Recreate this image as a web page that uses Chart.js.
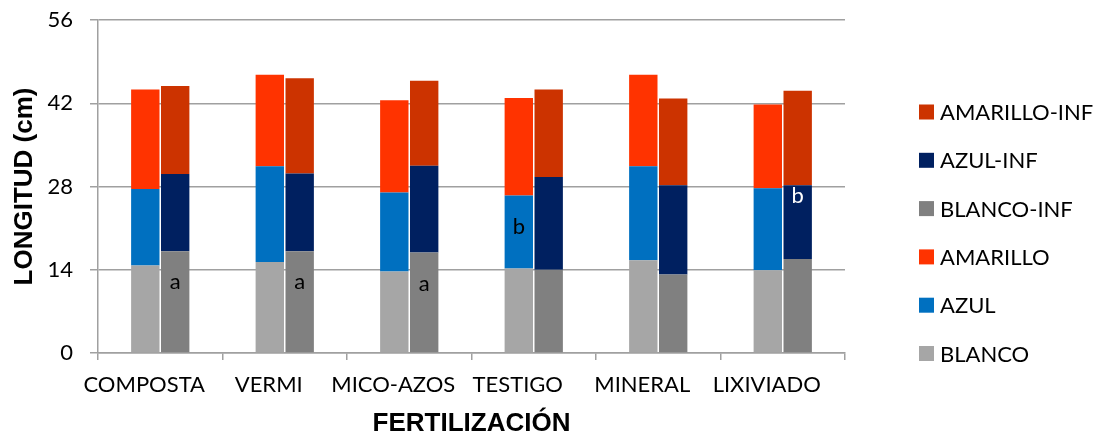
<!DOCTYPE html>
<html>
<head>
<meta charset="utf-8">
<script src="https://cdn.jsdelivr.net/npm/chart.js@4"></script>
<style>
  html, body { margin: 0; padding: 0; background: #fff; }
  #wrap { width: 1102px; height: 439px; position: relative; }
</style>
</head>
<body>
<div id="wrap"><canvas id="c" width="1102" height="439"></canvas></div>
<script>
const categories = ['COMPOSTA', 'VERMI', 'MICO-AZOS', 'TESTIGO', 'MINERAL', 'LIXIVIADO'];
const blanco      = [14.7, 15.3, 13.7, 14.2, 15.6, 13.9];
const azul        = [12.9, 16.1, 13.3, 12.3, 15.8, 13.8];
const amarillo    = [16.7, 15.4, 15.5, 16.4, 15.4, 14.1];
const blancoInf   = [17.1, 17.1, 16.9, 14.0, 13.2, 15.8];
const azulInf     = [13.0, 13.1, 14.6, 15.6, 15.0, 12.4];
const amarilloInf = [14.8, 16.0, 14.3, 14.7, 14.6, 15.9];
const yTicks = [0, 14, 28, 42, 56];
// significance letters: [seriesName, categoryIndex, letter]
const letters = [
  ['BLANCO-INF', 0, 'a'],
  ['BLANCO-INF', 1, 'a'],
  ['BLANCO-INF', 2, 'a'],
  ['AZUL', 3, 'b'],
  ['AZUL-INF', 5, 'b']
];

const letterStyle = {
  'BLANCO-INF': { color: '#000', dy: 31 },
  'AZUL': { color: '#000', dy: 31 },
  'AZUL-INF': { color: '#fff', dy: 11 }
};

const seriesDefs = [
  { label: 'BLANCO', data: blanco, color: '#A6A6A6', stack: 's1' },
  { label: 'AZUL', data: azul, color: '#0070C0', stack: 's1' },
  { label: 'AMARILLO', data: amarillo, color: '#FF3300', stack: 's1' },
  { label: 'BLANCO-INF', data: blancoInf, color: '#808080', stack: 's2' },
  { label: 'AZUL-INF', data: azulInf, color: '#002060', stack: 's2' },
  { label: 'AMARILLO-INF', data: amarilloInf, color: '#CC3300', stack: 's2' }
];

const TICK_FONT = 'Lato, "Open Sans", sans-serif';
const TITLE_FONT = '"Liberation Sans", Arial, sans-serif';

const lettersPlugin = {
  id: 'letters',
  afterDatasetsDraw(chart) {
    const ctx = chart.ctx;
    ctx.save();
    ctx.font = '22px ' + TICK_FONT;
    ctx.textAlign = 'center';
    ctx.textBaseline = 'middle';
    letters.forEach(([name, idx, txt]) => {
      const dsIndex = chart.data.datasets.findIndex(d => d.label === name);
      const el = chart.getDatasetMeta(dsIndex).data[idx];
      const st = letterStyle[name];
      ctx.fillStyle = st.color;
      ctx.fillText(txt, el.x, el.y + st.dy);
    });
    ctx.restore();
  }
};

const legendPlugin = {
  id: 'customLegend',
  afterDraw(chart) {
    const ctx = chart.ctx;
    ctx.save();
    ctx.font = '22px ' + TICK_FONT;
    ctx.textAlign = 'left';
    ctx.textBaseline = 'middle';
    const items = chart.data.datasets.slice().reverse();
    const x0 = 919, y0 = 112, step = 48.3;
    items.forEach((d, i) => {
      const y = y0 + i * step;
      ctx.fillStyle = d.backgroundColor;
      ctx.fillRect(x0, y - 7.5, 15, 15);
      ctx.fillStyle = '#000';
      ctx.fillText(d.label, x0 + 21, y + 1);
    });
    ctx.restore();
  }
};

new Chart(document.getElementById('c'), {
  type: 'bar',
  data: {
    labels: categories,
    datasets: seriesDefs.map(s => ({
      label: s.label,
      data: s.data,
      backgroundColor: s.color,
      stack: s.stack,
      borderWidth: 0,
      categoryPercentage: 0.48,
      barPercentage: 0.95
    }))
  },
  options: {
    responsive: false,
    animation: false,
    layout: { padding: { top: 20, right: 257, left: 0, bottom: 0 } },
    plugins: {
      legend: { display: false },
      tooltip: { enabled: false }
    },
    scales: {
      x: {
        stacked: true,
        grid: { display: true, drawOnChartArea: false, offset: true, color: '#A0A0A0', lineWidth: 1.5, tickLength: 7 },
        border: { display: true, color: '#A0A0A0', width: 1.5 },
        ticks: { color: '#000', font: { family: TICK_FONT, size: 22 }, padding: 12, labelOffset: -16, maxRotation: 0, autoSkip: false },
        title: { display: true, text: 'FERTILIZACIÓN', color: '#000', font: { family: TITLE_FONT, size: 26, weight: 'bold' }, padding: { top: 0, bottom: 0 } },
        afterFit(scale) { scale.height = 86; scale.paddingLeft = 0; scale.paddingRight = 0; }
      },
      y: {
        stacked: true,
        min: 0, max: 56,
        afterBuildTicks(scale) { scale.ticks = yTicks.map(v => ({ value: v })); },
        grid: { color: '#A0A0A0', lineWidth: 1.5, tickLength: 8 },
        border: { display: true, color: '#A0A0A0', width: 1.5 },
        ticks: { color: '#000', font: { family: TICK_FONT, size: 22 }, padding: 17 },
        title: { display: true, text: 'LONGITUD (cm)', color: '#000', font: { family: TITLE_FONT, size: 26, weight: 'bold' }, padding: { top: 9, bottom: 4 } },
        afterFit(scale) { scale.width = 98; scale.paddingTop = 0; scale.paddingBottom = 0; }
      }
    }
  },
  plugins: [lettersPlugin, legendPlugin]
});
</script>
</body>
</html>
